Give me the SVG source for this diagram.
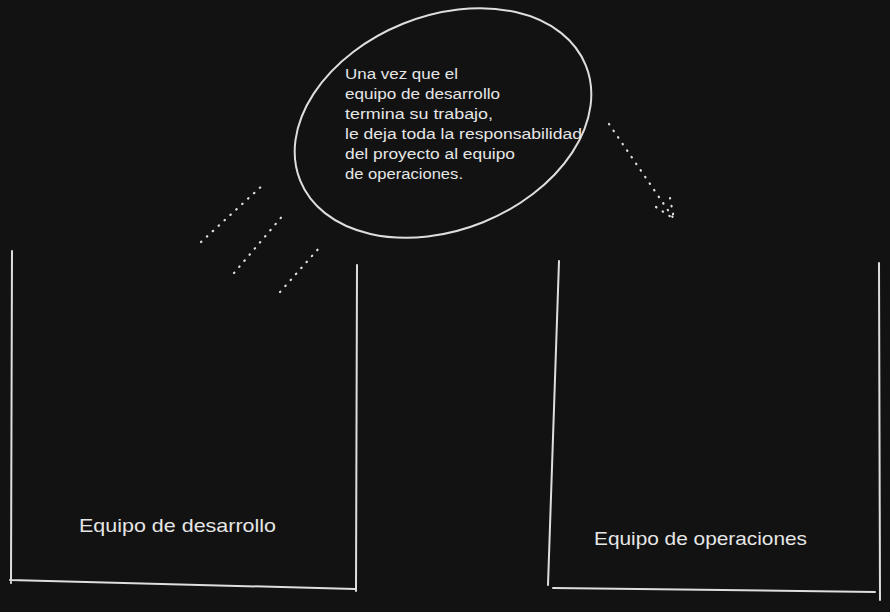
<svg xmlns="http://www.w3.org/2000/svg" width="890" height="612" viewBox="0 0 890 612">
<style>
.ln{fill:none;stroke:#dedede;stroke-width:2;stroke-linecap:round;stroke-linejoin:round}
.dot{fill:none;stroke:#dedede;stroke-width:2.2;stroke-linecap:round;stroke-dasharray:0.5 7.5}
.t{fill:#e6e6e6;font-family:"Liberation Sans",Arial,sans-serif}
</style>
<rect width="890" height="612" fill="#121212"/>
<g id="dev">
<path class="ln" d="M12 251 L11 583 M10 580 L355 589 M357 265 L356 591"/>
<text class="t" x="79" y="532" font-size="19" textLength="197" lengthAdjust="spacingAndGlyphs">Equipo de desarrollo</text>
</g>
<g id="ops">
<path class="ln" d="M559 261 L548 585 M553 588 L875 592 M879 263 L880 600"/>
<text class="t" x="594" y="545" font-size="19" textLength="213" lengthAdjust="spacingAndGlyphs">Equipo de operaciones</text>
</g>
<g id="note">
<ellipse class="ln" cx="443" cy="123" rx="154" ry="107" transform="rotate(-22 443 123)"/>
<g class="t" font-size="15.5">
<text x="345" y="79" textLength="113" lengthAdjust="spacingAndGlyphs">Una vez que el</text>
<text x="345" y="99" textLength="155" lengthAdjust="spacingAndGlyphs">equipo de desarrollo</text>
<text x="345" y="119" textLength="148" lengthAdjust="spacingAndGlyphs">termina su trabajo,</text>
<text x="345" y="139" textLength="237" lengthAdjust="spacingAndGlyphs">le deja toda la responsabilidad</text>
<text x="345" y="159" textLength="170" lengthAdjust="spacingAndGlyphs">del proyecto al equipo</text>
<text x="345" y="179" textLength="118" lengthAdjust="spacingAndGlyphs">de operaciones.</text>
</g>
</g>
<g id="connectors">
<path class="dot" d="M201 242 L265 183"/>
<path class="dot" d="M234 273 L285 213"/>
<path class="dot" d="M280 292 L320 247"/>
<path class="dot" d="M609 124 L674 219"/>
<path class="dot" d="M656 207 L674 219 M670 198 L674 219"/>
</g>
</svg>
